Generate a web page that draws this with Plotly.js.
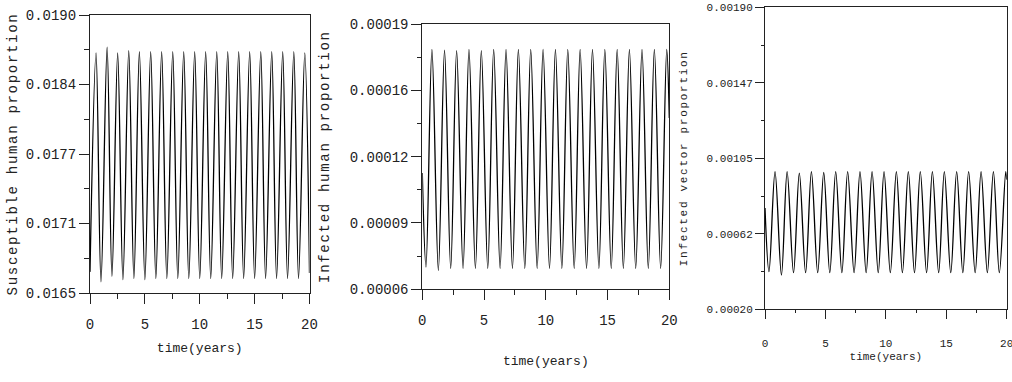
<!DOCTYPE html>
<html>
<head>
<meta charset="utf-8">
<script src="https://cdn.plot.ly/plotly-3.0.1.min.js"></script>
<style>
  html, body { margin: 0; padding: 0; background: #fff; }
  #chart { width: 1012px; height: 382px; }
  .ytitle, .y2title, .y3title { letter-spacing: 1.7px; }
</style>
</head>
<body>
<div id="chart"></div>
<script>
// ---------- data (turning points) ----------
var sTime = [0, 0.55, 1.0, 1.56, 2.0, 2.52, 3.0, 3.53, 4.0, 4.5, 5.0, 5.53, 6.0, 6.53, 7.0, 7.54, 8.0, 8.54, 9.0, 9.54, 10.0,
             10.54, 11.0, 11.55, 12.0, 12.55, 13.0, 13.55, 14.0, 14.55, 15.0, 15.56, 16.0, 16.56, 17.0, 17.56, 18.0, 18.57, 19.0, 19.57, 20.0];
var sValue = [0.01669, 0.01866, 0.01660, 0.01871, 0.01665, 0.01866, 0.01662, 0.01868, 0.01663, 0.01867, 0.01662,
              0.01867, 0.01663, 0.01867, 0.01663, 0.01867, 0.01663, 0.01867, 0.01663, 0.01867, 0.01663,
              0.01867, 0.01663, 0.01867, 0.01663, 0.01867, 0.01663, 0.01867, 0.01663, 0.01867, 0.01663,
              0.01867, 0.01663, 0.01867, 0.01663, 0.01867, 0.01663, 0.01867, 0.01663, 0.01866, 0.01668];

var iTime = [0, 0.3, 0.78, 1.3, 1.8, 2.3, 2.78, 3.3, 3.78, 4.3, 4.78, 5.3, 5.78, 6.3, 6.78, 7.3, 7.78, 8.3, 8.78, 9.3, 9.78,
             10.3, 10.78, 11.3, 11.78, 12.3, 12.78, 13.3, 13.78, 14.3, 14.78, 15.3, 15.78, 16.28, 16.77, 17.28, 17.79, 18.3, 18.79, 19.3, 19.79, 20.0];
var iValue = [0.000117, 0.0000709, 0.0001776, 0.0000693, 0.0001772, 0.0000702, 0.0001770, 0.0000702, 0.0001776, 0.0000702, 0.0001770,
              0.0000702, 0.0001776, 0.0000702, 0.0001776, 0.0000702, 0.0001776, 0.0000702, 0.0001776, 0.0000702, 0.0001776,
              0.0000702, 0.0001776, 0.0000702, 0.0001776, 0.0000702, 0.0001776, 0.0000702, 0.0001776, 0.0000702, 0.0001776,
              0.0000702, 0.0001776, 0.0000702, 0.0001776, 0.0000702, 0.0001776, 0.0000702, 0.0001776, 0.0000702, 0.0001776, 0.000144];

var vTime = [0, 0.33, 0.83, 1.36, 1.83, 2.36, 2.84, 3.36, 3.84, 4.36, 4.86, 5.36, 5.85, 6.36, 6.84, 7.37, 7.86, 8.37, 8.86, 9.37, 9.85,
             10.37, 10.87, 11.37, 11.86, 12.37, 12.85, 13.37, 13.85, 14.37, 14.84, 15.37, 15.86, 16.37, 16.85, 17.39, 17.88, 18.4, 18.9, 19.39, 19.92, 20.0];
var vValue = [0.00077, 0.000412, 0.000975, 0.000393, 0.000975, 0.000406, 0.000966, 0.000406, 0.000975, 0.000406, 0.000970,
              0.000406, 0.000975, 0.000406, 0.000975, 0.000406, 0.000975, 0.000406, 0.000975, 0.000406, 0.000975,
              0.000406, 0.000975, 0.000406, 0.000975, 0.000406, 0.000975, 0.000406, 0.000975, 0.000406, 0.000975,
              0.000406, 0.000975, 0.000406, 0.000975, 0.000406, 0.000975, 0.000406, 0.000975, 0.000406, 0.000975, 0.00093];

// ---------- ticks ----------
var xTickVals = [0, 5, 10, 15, 20];
var xTickText = ['0', '5', '10', '15', '20'];
var xMinorVals = [2.5, 7.5, 12.5, 17.5];

var sTickVals = [0.0165, 0.017125, 0.01775, 0.018375, 0.019];
var sTickText = ['0.0165', '0.0171', '0.0177', '0.0184', '0.0190'];
var sMinorVals = [0.0168125, 0.0174375, 0.0180625, 0.0186875];

var iTickVals = [0.00006, 0.0000925, 0.000125, 0.0001575, 0.00019];
var iTickText = ['0.00006', '0.00009', '0.00012', '0.00016', '0.00019'];
var iMinorVals = [0.00007625, 0.00010875, 0.00014125, 0.00017375];

var vTickVals = [0.0002, 0.000625, 0.00105, 0.001475, 0.0019];
var vTickText = ['0.00020', '0.00062', '0.00105', '0.00147', '0.00190'];
var vMinorVals = [0.0004125, 0.0008375, 0.0012625, 0.0016875];

var xTitleText = 'time(years)';
var sTitleText = 'Susceptible human proportion';
var iTitleText = 'Infected human proportion';
var vTitleText = 'Infected vector proportion';

// ---------- figure ----------
var FONT = '"Liberation Mono", "Courier New", monospace';
var INK = '#222';
var W = 1012, H = 382;
function px(a, b) { return [a / W, b / W]; }
function py(top, bottom) { return [(H - bottom) / H, (H - top) / H]; }

function lineTrace(x, y, xa, ya) {
  return { x: x, y: y, xaxis: xa, yaxis: ya, type: 'scatter', mode: 'lines',
           line: { color: '#000', width: 1.3, shape: 'spline', smoothing: 1 },
           hoverinfo: 'x+y', showlegend: false };
}

function xAxis(domain, anchor, fsTick, fsTitle, standoff, lblStand, tlen, mlen) {
  return {
    domain: domain, anchor: anchor, range: [0, 20], fixedrange: true,
    showline: true, mirror: true, linecolor: INK, linewidth: 1,
    showgrid: false, zeroline: false,
    tickmode: 'array', tickvals: xTickVals, ticktext: xTickText,
    ticks: 'outside', ticklen: tlen, tickwidth: 1, tickcolor: INK,
    ticklabelstandoff: lblStand, ticklabeloverflow: 'allow',
    minor: { tickvals: xMinorVals, ticks: 'outside', ticklen: mlen, tickwidth: 1, tickcolor: INK, showgrid: false },
    tickfont: { family: FONT, size: fsTick, color: INK },
    title: { text: xTitleText, font: { family: FONT, size: fsTitle, color: INK }, standoff: standoff }
  };
}

function yAxis(domain, anchor, range, tv, tt, mv, title, fsTick, fsTitle, standoff, tlen, mlen) {
  return {
    domain: domain, anchor: anchor, range: range, fixedrange: true,
    showline: true, mirror: true, linecolor: INK, linewidth: 1,
    showgrid: false, zeroline: false,
    tickmode: 'array', tickvals: tv, ticktext: tt,
    ticks: 'outside', ticklen: tlen, tickwidth: 1, tickcolor: INK,
    minor: { tickvals: mv, ticks: 'outside', ticklen: mlen, tickwidth: 1, tickcolor: INK, showgrid: false },
    tickfont: { family: FONT, size: fsTick, color: INK },
    title: { text: title, font: { family: FONT, size: fsTitle, color: INK }, standoff: standoff }
  };
}

var data = [
  lineTrace(sTime, sValue, 'x', 'y'),
  lineTrace(iTime, iValue, 'x2', 'y2'),
  lineTrace(vTime, vValue, 'x3', 'y3')
];

var layout = {
  width: W, height: H,
  margin: { l: 0, r: 0, t: 0, b: 0, pad: 0 },
  paper_bgcolor: '#fff', plot_bgcolor: '#fff',
  showlegend: false,
  xaxis:  xAxis(px(90, 309.5), 'y', 14, 13, 11, 8, 10, 5),
  yaxis:  yAxis(py(15, 293), 'x', [0.0165, 0.019], sTickVals, sTickText, sMinorVals, sTitleText, 14, 14, 4, 10, 5),
  xaxis2: xAxis(px(422.3, 669.3), 'y2', 14, 13, 27, 8, 10, 5),
  yaxis2: yAxis(py(24, 289.3), 'x2', [0.00006, 0.00019], iTickVals, iTickText, iMinorVals, iTitleText, 14, 14, 16, 10, 4),
  xaxis3: xAxis(px(765, 1006.7), 'y3', 11, 11, 3, 14, 9, 3),
  yaxis3: yAxis(py(7.3, 309.3), 'x3', [0.0002, 0.0019], vTickVals, vTickText, vMinorVals, vTitleText, 11, 11, 16, 9, 3)
};

Plotly.newPlot('chart', data, layout, { staticPlot: true, displayModeBar: false });
</script>
</body>
</html>
